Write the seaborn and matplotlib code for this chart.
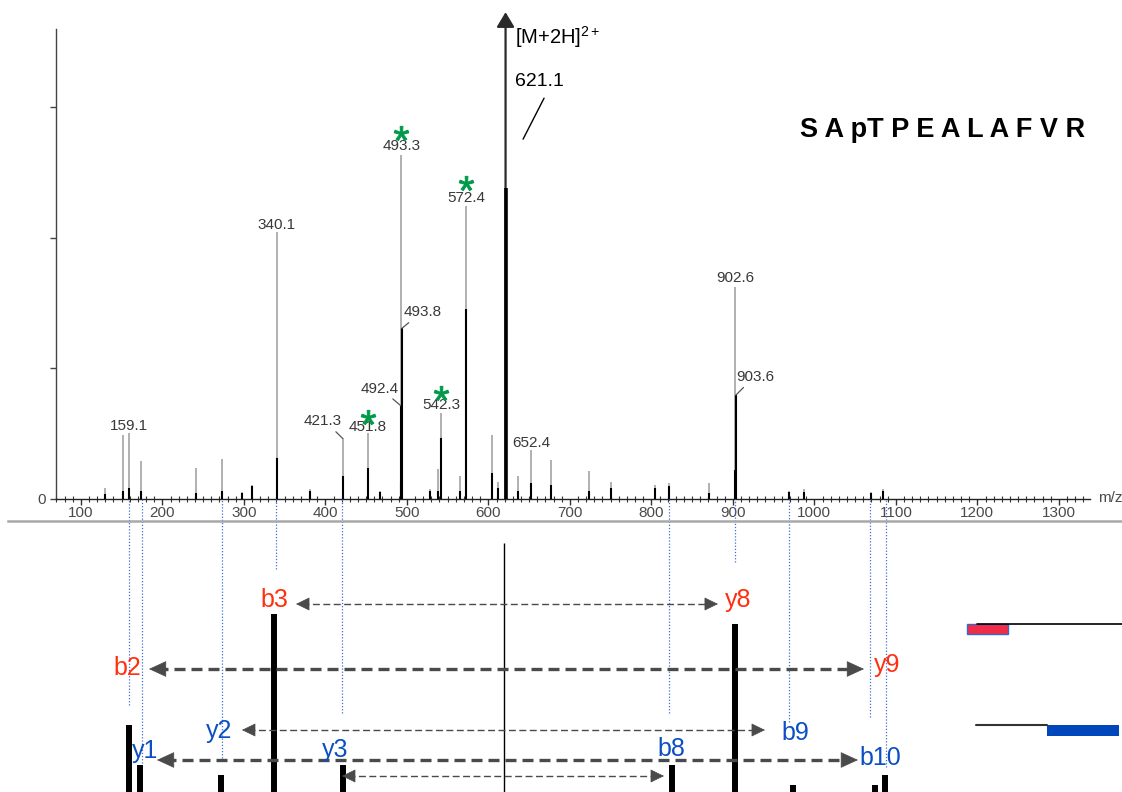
import matplotlib
matplotlib.use("Agg")
import matplotlib.pyplot as plt
from matplotlib.ticker import MultipleLocator, FixedLocator
from matplotlib.patches import Rectangle
import numpy as np
import pandas as pd
import seaborn as sns

# ---------------- spectrum data ----------------
peak_mz = [129.6, 151.7, 159.1, 173.8, 241.3, 273.2, 297.7, 310.0, 340.1, 381.0,
           421.3, 451.8, 467.0, 492.4, 493.3, 493.8, 528.0, 538.0, 542.3, 565.0,
           572.4, 604.4, 611.8, 621.1, 636.3, 652.4, 676.8, 723.0, 750.0, 805.0,
           821.6, 870.7, 902.6, 903.6, 968.9, 987.3, 1069.5, 1084.0]
peak_profile = [2.1, 12.1, 12.5, 7.1, 5.9, 7.5, 1.3, 2.5, 51.0, 1.9,
                11.5, 12.5, 1.5, 17.8, 65.8, 32.6, 1.9, 5.7, 16.3, 4.4,
                56.0, 12.1, 3.1, 93.2, 4.4, 9.2, 7.3, 5.2, 3.1, 2.5,
                2.9, 2.9, 40.5, 19.8, 1.5, 1.9, 1.2, 1.9]
peak_centroid = [0.8, 1.5, 2.0, 1.5, 1.0, 1.5, 1.0, 2.3, 7.7, 1.5,
                 4.4, 5.8, 1.2, 17.8, 3.0, 32.6, 1.5, 1.5, 11.5, 1.5,
                 36.3, 4.8, 2.0, 59.5, 1.5, 2.9, 2.5, 1.5, 2.0, 2.0,
                 2.3, 1.0, 5.4, 19.8, 1.2, 1.2, 1.0, 1.5]

label_text = ['159.1', '340.1', '421.3', '451.8', '492.4', '493.3',
              '493.8', '542.3', '572.4', '652.4', '902.6', '903.6']
label_mz = [159.1, 340.1, 421.3, 451.8, 492.4, 493.3, 493.8, 542.3, 572.4, 652.4, 902.6, 903.6]
label_top = [12.5, 51.0, 11.5, 12.5, 17.8, 65.8, 32.6, 16.3, 56.0, 9.2, 40.5, 19.8]
label_dx = [0, 0, -20, 0, -21, 0, 21, 0, 0, 0, 0, 20]
label_dy = [7, 7, 17, 6, 17, 9, 16, 8, 8, 7, 9, 18]
label_lead = [None, None, 0.72, None, 0.70, None, 0.28, None, None, None, None, 0.30]

star_mz = [451.8, 493.3, 542.3, 572.4]
star_top = [12.5, 65.8, 16.3, 56.0]
star_dy = [16, 22, 20, 23]

precursor_label = r'[M+2H]$^{\mathrm{2+}}$'
precursor_value = '621.1'
sequence = 'S A pT P E A L A F V R'

x_ticks = list(range(100, 1301, 100))
y_ticks = [0, 25, 50, 75]
y_tick_labels = ['0', '', '', '']

# ---------------- fragment panel data ----------------
bar_mz = [159.1, 172.6, 271.9, 337.0, 421.3, 825.3, 902.6, 973.8, 1074.4, 1086.6]
bar_h = [67, 27, 17, 178, 27, 27, 168, 7, 7, 17]

guide_mz = [158.5, 175.3, 272.9, 340.0, 420.2, 822.0, 902.6, 968.9, 1068.2, 1087.9]
guide_end = [87, 29, 34, 223, 79, 79, 230, 70, 75, 25]

ion_names = ['b3', 'y8', 'b2', 'y9', 'y2', 'b9', 'y1', 'b10', 'y3', 'b8']
ion_mz = [336.9, 906.3, 156.8, 1089.1, 269.7, 976.2, 178.7, 1080.5, 411.8, 824.1]
ion_y = [192, 192, 124, 127, 61, 59, 41, 34, 42, 43]
ion_kind = ['red'] * 4 + ['blue'] * 6

pair_left = [364.0, 183.6, 297.7, 193.4, 420.4]
pair_right = [881.7, 1060.9, 939.4, 1053.5, 815.5]
pair_y = [188, 123, 62, 32, 16]
pair_thick = [False, True, False, True, False]

precursor_line_mz = 619.0
precursor_line_top = 249

# ---------------- figure ----------------
sns.set_theme(style='white')
plt.rcParams['font.family'] = ['Liberation Sans', 'DejaVu Sans']
plt.rcParams['mathtext.fontset'] = 'custom'
plt.rcParams['mathtext.rm'] = 'Liberation Sans'
plt.rcParams['mathtext.it'] = 'Liberation Sans:italic'
plt.rcParams['mathtext.bf'] = 'Liberation Sans:bold'

W, H = 1122, 792
fig = plt.figure(figsize=(W / 100, H / 100), dpi=100)
fig.patch.set_facecolor('white')

L, R, B, T = 56, 1090, 498.5, 8
XMIN, XMAX, YMAX = 69.5, 1338.2, 94.0
PX_PER_MZ = (R - L) / (XMAX - XMIN)
PX_PER_UNIT = (B - T) / YMAX


def mz_at(px):
    return XMIN + (px - L) / PX_PER_MZ


ax = fig.add_axes([L / W, 1 - B / H, (R - L) / W, (B - T) / H])
ax.set_facecolor('none')

# profile (gray) sticks and centroid (black) sticks
imax = int(np.argmax(peak_profile))
prof_mz = [m for i, m in enumerate(peak_mz) if i != imax]
prof_h = [h for i, h in enumerate(peak_profile) if i != imax]
ax.vlines(prof_mz, 0, prof_h, color='#a3a3a3', lw=1.2, zorder=2)
ax.annotate('', xy=(peak_mz[imax], peak_profile[imax]), xytext=(peak_mz[imax], 0),
            arrowprops=dict(arrowstyle='-|>,head_length=0.45,head_width=0.27',
                            mutation_scale=20, color='#2a2a2a', lw=1.6,
                            shrinkA=0, shrinkB=0),
            annotation_clip=False, zorder=3)
ax.vlines(peak_mz, 0, peak_centroid, color='black', lw=1.5, zorder=4)
ax.vlines([peak_mz[imax]], 0, [peak_centroid[imax]], color='black', lw=2.6, zorder=4)

# peak labels
for t, m, h, dx, dy, lead in zip(label_text, label_mz, label_top, label_dx, label_dy, label_lead):
    kw = {}
    if lead is not None:
        kw['arrowprops'] = dict(arrowstyle='-', color='#555555', lw=0.9,
                                shrinkA=0, shrinkB=0, relpos=(lead, 0.1))
    ax.annotate(t, xy=(m, h), xytext=(dx, dy), textcoords='offset pixels',
                ha='center', va='center', fontsize=11, color='#383838', zorder=5, **kw)

# green asterisks
star_df = pd.DataFrame({'mz': star_mz,
                        'y': [h + d / PX_PER_UNIT for h, d in zip(star_top, star_dy)]})
sns.scatterplot(data=star_df, x='mz', y='y', marker='$*$', s=110, color='#00994a',
                edgecolor='#00994a', linewidth=0.7, ax=ax, legend=False, zorder=6)

# precursor annotations
tipx, tipy = peak_mz[imax], peak_profile[imax]
ax.annotate(precursor_label, xy=(tipx, tipy), xytext=(9, -25), textcoords='offset pixels',
            ha='left', va='center', fontsize=14.5, color='black')
ax.annotate(precursor_value, xy=(tipx, tipy), xytext=(9, -69), textcoords='offset pixels',
            ha='left', va='center', fontsize=14, color='black')
ax.plot([tipx + 17.5 / PX_PER_MZ, tipx + 38.5 / PX_PER_MZ],
        [tipy - 127 / PX_PER_UNIT, tipy - 86 / PX_PER_UNIT], color='black', lw=1.0)

ax.set_xlim(XMIN, XMAX)
ax.set_ylim(0, YMAX)
ax.set_xlabel('')
ax.set_ylabel('')
ax.xaxis.set_major_locator(FixedLocator(x_ticks))
ax.xaxis.set_minor_locator(MultipleLocator(10))
ax.set_yticks(y_ticks)
ax.set_yticklabels(y_tick_labels)
ax.tick_params(axis='x', which='major', direction='out', length=4.5, width=1.0,
               color='#333333', labelsize=11, labelcolor='#4a4a4a', pad=1, bottom=True)
ax.tick_params(axis='x', which='minor', direction='inout', length=4, width=0.8,
               color='#333333', bottom=True)
ax.tick_params(axis='y', which='major', direction='out', length=4.5, width=1.0,
               color='#444444', labelsize=11, labelcolor='#4a4a4a', pad=3, left=True)
for s in ('top', 'right'):
    ax.spines[s].set_visible(False)
ax.spines['left'].set_bounds(0, 90)
ax.spines['left'].set_color('#444444')
ax.spines['left'].set_linewidth(1.0)
ax.spines['bottom'].set_color('#222222')
ax.spines['bottom'].set_linewidth(1.0)
ax.annotate('m/z', xy=(XMAX, 0), xytext=(8, 0), textcoords='offset pixels',
            ha='left', va='center', fontsize=11, color='#4a4a4a', annotation_clip=False)

fig.text(943 / W, 1 - 130 / H, sequence, ha='center', va='center',
         fontsize=19.5, fontweight='bold', color='black')

# ---------------- fragment panel ----------------
BL = 8
axb = fig.add_axes([BL / W, 0, (W - BL) / W, 271 / H])
axb.set_xlim(mz_at(BL), mz_at(W))
axb.set_ylim(0, 271)
axb.set_xticks([])
axb.set_yticks([])
for s in ('left', 'right', 'bottom'):
    axb.spines[s].set_visible(False)
axb.spines['top'].set_color('#a8a8a8')
axb.spines['top'].set_linewidth(1.8)

guides = axb.vlines(guide_mz, guide_end, H - B, color='#3a6fd8', lw=0.9,
                    linestyles=(0, (1, 1.5)), zorder=1)
guides.set_clip_on(False)

axb.vlines(bar_mz, 0, bar_h, color='black', lw=4.3, zorder=3)
axb.vlines([precursor_line_mz], 0, [precursor_line_top], color='black', lw=1.0, zorder=2)

arrow_c = '#4a4a4a'
for x0, x1, y, thick in zip(pair_left, pair_right, pair_y, pair_thick):
    if thick:
        lw, dash, hl, hw = 2.4, (0, (3.3, 1.8)), 1.15, 0.53
    else:
        lw, dash, hl, hw = 1.0, (0, (5, 2.5)), 0.88, 0.43
    head_mz = (hl * 10 * 1.389) / PX_PER_MZ
    axb.plot([x0 + head_mz * 0.5, x1 - head_mz * 0.5], [y, y], color=arrow_c, lw=lw,
             linestyle=dash, zorder=4)
    for tip, d in ((x0, 1), (x1, -1)):
        axb.annotate('', xy=(tip, y), xytext=(tip + d * head_mz * 1.05, y),
                     arrowprops=dict(arrowstyle=f'-|>,head_length={hl},head_width={hw}',
                                     mutation_scale=10, color=arrow_c, lw=0.5,
                                     shrinkA=0, shrinkB=0), zorder=5)

ion_colors = {'red': '#ff2f0f', 'blue': '#0b4fc2'}
for n, m, y, k in zip(ion_names, ion_mz, ion_y, ion_kind):
    axb.text(m, y, n, ha='center', va='center', fontsize=18, color=ion_colors[k], zorder=6)

# small key glyphs on the right
axb.add_patch(Rectangle((mz_at(967), 158), mz_at(1008) - mz_at(967), 10,
                        facecolor='#f02c48', edgecolor='#3a66c8', lw=1.0, zorder=3))
axb.plot([mz_at(977), mz_at(W)], [168, 168], color='black', lw=1.2, zorder=4)
axb.plot([mz_at(976), mz_at(1047)], [67, 67], color='#333333', lw=1.5, zorder=4)
axb.add_patch(Rectangle((mz_at(1047), 56), mz_at(1119) - mz_at(1047), 11,
                        facecolor='#0047bb', edgecolor='none', zorder=3))

fig.savefig('out.png', dpi=100, facecolor='white')
